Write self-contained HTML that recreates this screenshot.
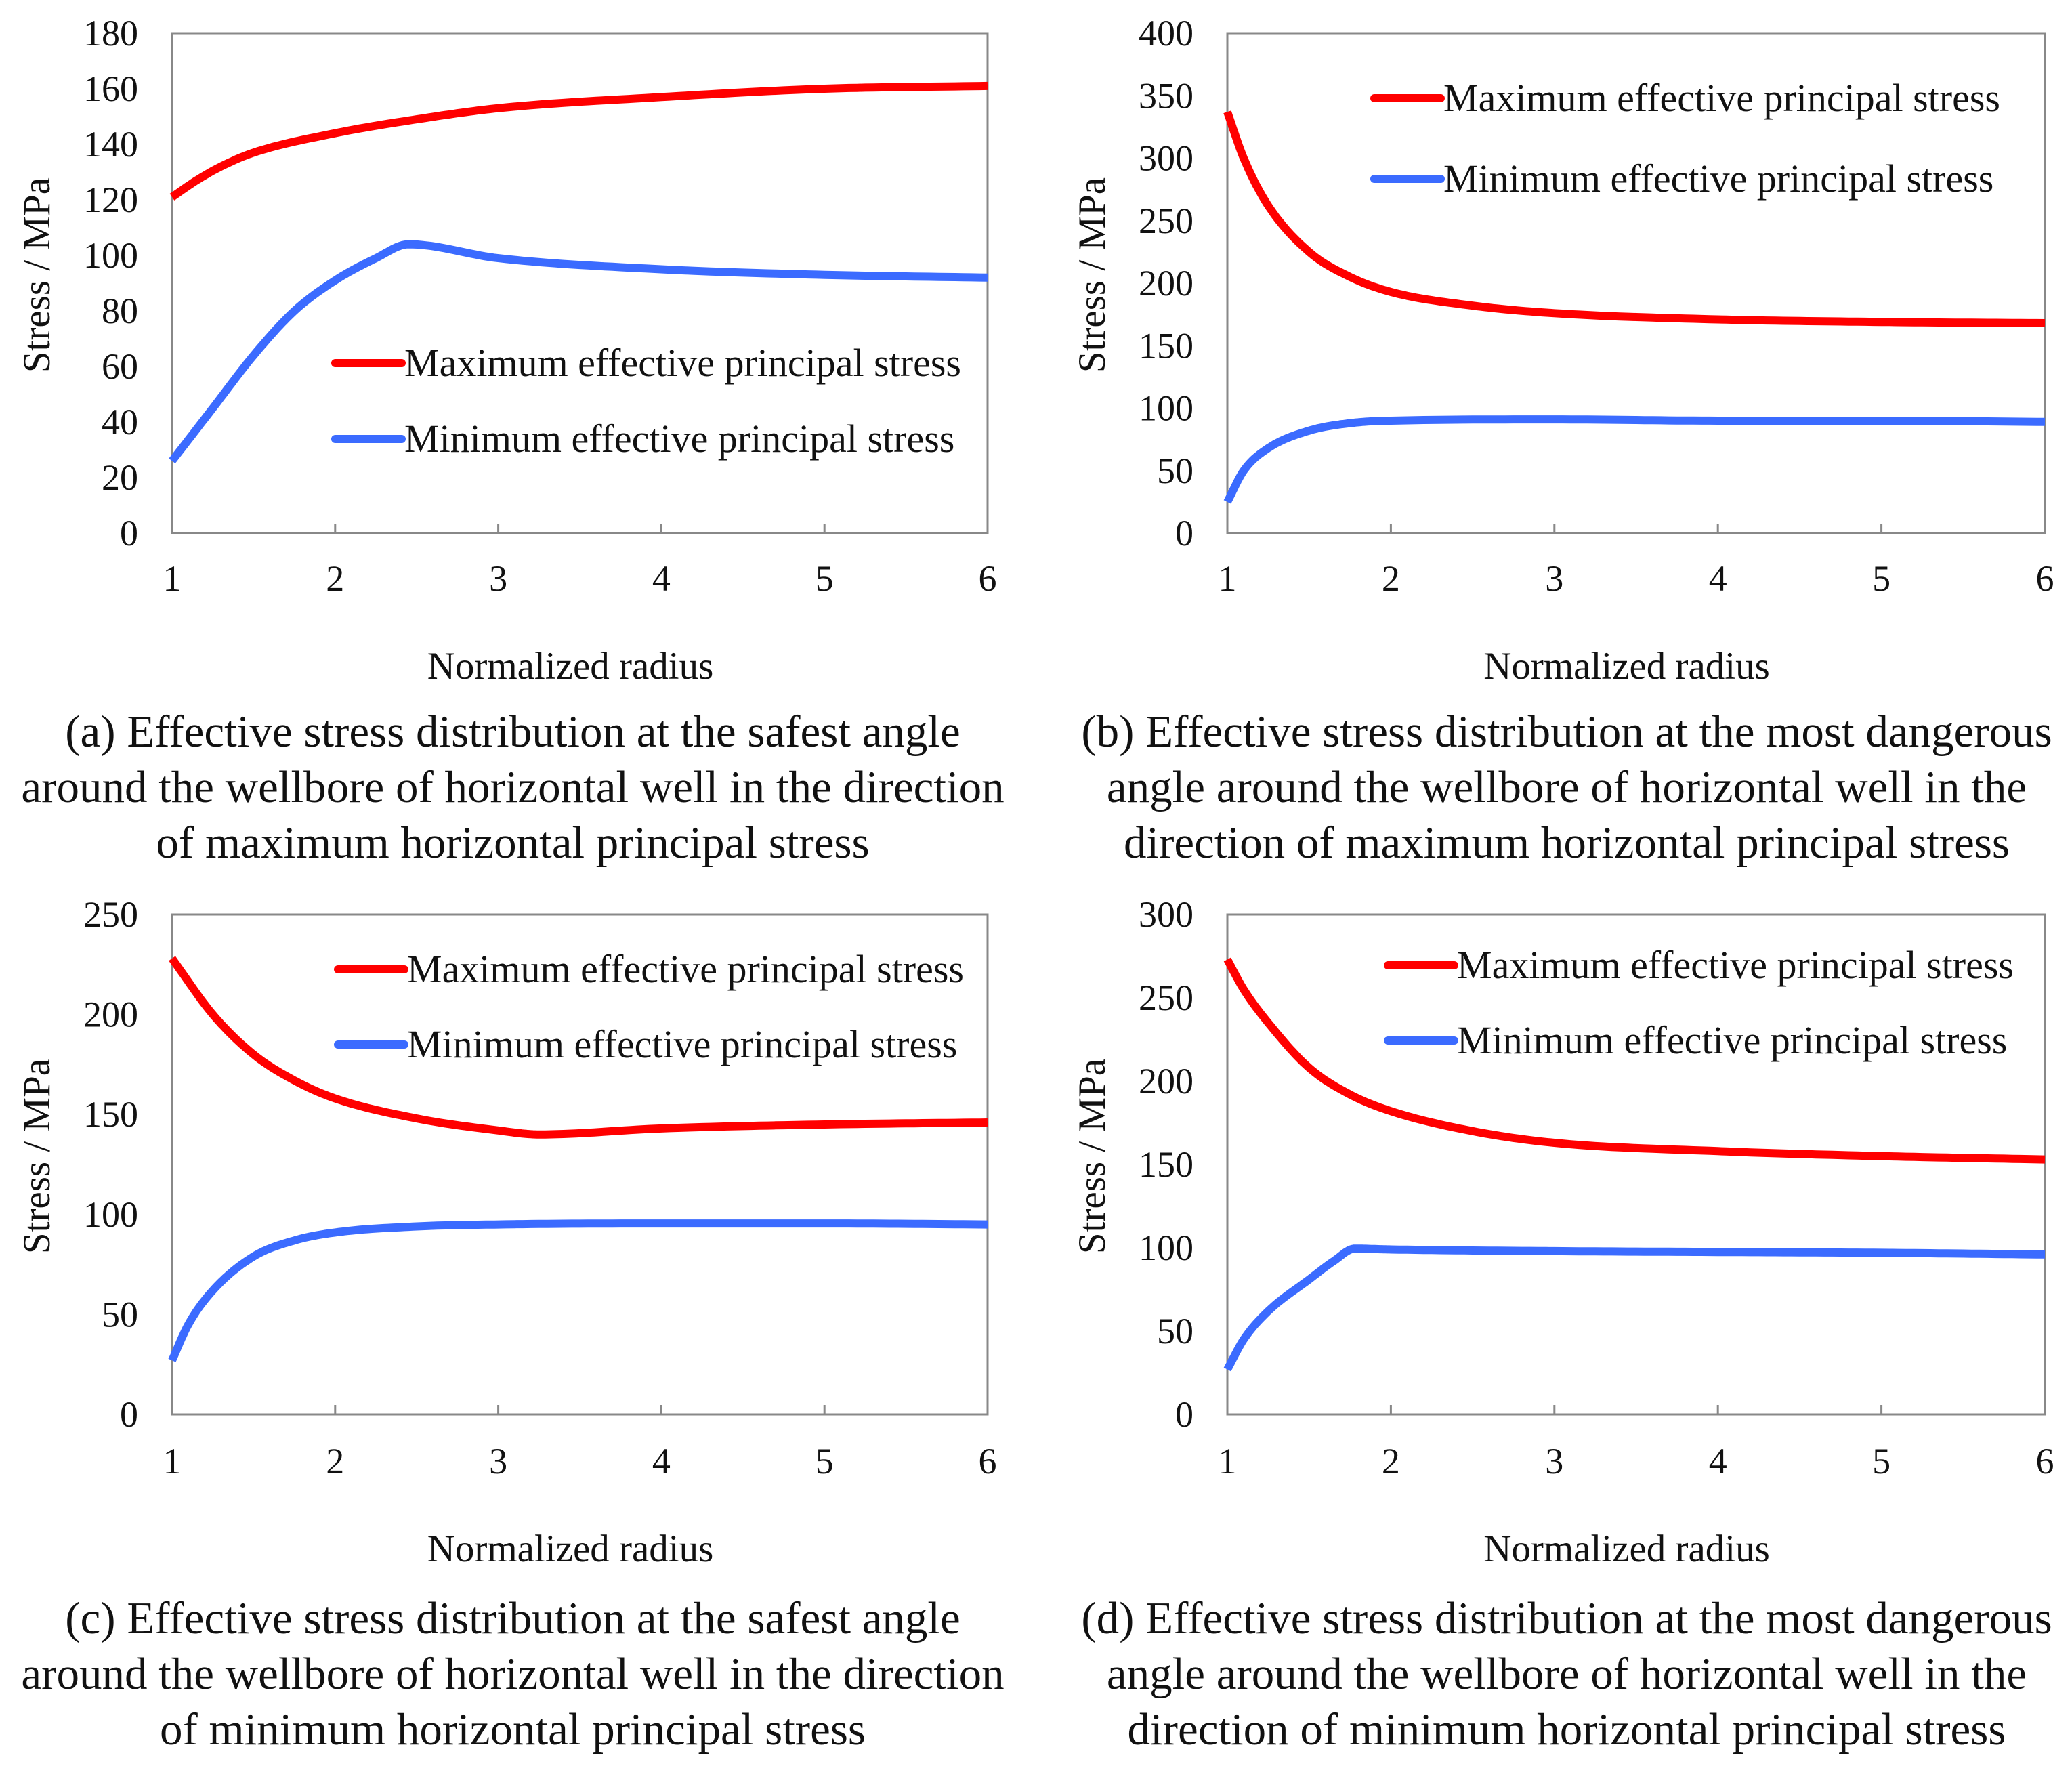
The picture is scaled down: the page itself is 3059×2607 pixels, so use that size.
<!DOCTYPE html>
<html><head><meta charset="utf-8"><style>
html,body{margin:0;padding:0;background:#fff}
svg{display:block}
text{font-family:"Liberation Serif",serif;fill:#111}
</style></head><body>
<svg id="fig" width="3059" height="2607" viewBox="0 0 3059 2607" xmlns="http://www.w3.org/2000/svg"></svg>
<script>
// ---- data ----
const xTicks = [1,2,3,4,5,6];
const aYTicks = [0,20,40,60,80,100,120,140,160,180];
const bYTicks = [0,50,100,150,200,250,300,350,400];
const cYTicks = [0,50,100,150,200,250];
const dYTicks = [0,50,100,150,200,250,300];

const aMaxX = [1,1.15,1.3,1.5,2,2.5,3,4,5,6];
const aMaxY = [121,127,132,137,144,149,153,157,160,161];
const aMinX = [1,1.25,1.5,1.75,2,2.25,2.45,3,4,5,6];
const aMinY = [26,45,64,80,91,99,104,99,95,93,92];

const bMaxX = [1,1.1,1.25,1.5,1.75,2,2.5,3,4,5,6];
const bMaxY = [337,300,262,225,205,193,182,176,171,169,168];
const bMinX = [1,1.1,1.25,1.5,1.75,2,3,4,5,6];
const bMinY = [25,50,68,82,88,90,91,90,90,89];

const cMaxX = [1,1.25,1.5,1.75,2,2.5,3,3.25,4,5,6];
const cMaxY = [228,200,180,167,158,148,142,140,143,145,146];
const cMinX = [1,1.1,1.25,1.5,1.75,2,2.5,3,4,5,6];
const cMinY = [27,45,62,79,87,91,94,95,95.5,95.5,95];

const dMaxX = [1,1.1,1.25,1.5,1.75,2,2.5,3,4,5,6];
const dMaxY = [273,255,235,208,192,182,170,163,158,155,153];
const dMinX = [1,1.1,1.25,1.5,1.65,1.78,2,3,4,5,6];
const dMinY = [27,45,62,81,92,99.5,99,98,97.5,97,96];

const legendLabels = ["Maximum effective principal stress","Minimum effective principal stress"];

const NS="http://www.w3.org/2000/svg";
const svg=document.getElementById('fig');
function mk(tag,attrs,parent){const e=document.createElementNS(NS,tag);for(const k in attrs)e.setAttribute(k,attrs[k]);(parent||svg).appendChild(e);return e;}

function monotonePath(xs,ys,sx,sy){
  const n=xs.length,d=[],m=[];
  for(let i=0;i<n-1;i++)d.push((ys[i+1]-ys[i])/(xs[i+1]-xs[i]));
  m[0]=d[0];m[n-1]=d[n-2];
  for(let i=1;i<n-1;i++){m[i]=(d[i-1]*d[i]<=0)?0:(d[i-1]+d[i])/2;}
  for(let i=0;i<n-1;i++){if(d[i]===0){m[i]=0;m[i+1]=0;continue;}const a=m[i]/d[i],b=m[i+1]/d[i],s=a*a+b*b;if(s>9){const t=3/Math.sqrt(s);m[i]=t*a*d[i];m[i+1]=t*b*d[i];}}
  let p='M'+sx(xs[0]).toFixed(1)+','+sy(ys[0]).toFixed(1);
  for(let i=0;i<n-1;i++){const h=xs[i+1]-xs[i];
    for(let k=1;k<=20;k++){const t=k/20,t2=t*t,t3=t2*t;
      const y=(2*t3-3*t2+1)*ys[i]+(t3-2*t2+t)*h*m[i]+(-2*t3+3*t2)*ys[i+1]+(t3-t2)*h*m[i+1];
      p+=' L'+sx(xs[i]+t*h).toFixed(1)+','+sy(y).toFixed(1);}}
  return p;
}

const panels=[
 {id:'a',L:254,R:1458,T:49,B:787,yt:aYTicks,ymax:180,mx:aMaxX,my:aMaxY,nx:aMinX,ny:aMinY,lx:495,ly:[536,648],
  cap:["(a) Effective stress distribution at the safest angle","around the wellbore of horizontal well in the direction","of maximum horizontal principal stress"],cx:757,capY:1102,xtY:872,xtitleY:1000},
 {id:'b',L:1812,R:3019,T:49,B:787,yt:bYTicks,ymax:400,mx:bMaxX,my:bMaxY,nx:bMinX,ny:bMinY,lx:2029,ly:[145,264],
  cap:["(b) Effective stress distribution at the most dangerous","angle around the wellbore of horizontal well in the","direction of maximum horizontal principal stress"],cx:2313,capY:1102,xtY:872,xtitleY:1000},
 {id:'c',L:254,R:1458,T:1350,B:2088,yt:cYTicks,ymax:250,mx:cMaxX,my:cMaxY,nx:cMinX,ny:cMinY,lx:499,ly:[1431,1542],
  cap:["(c) Effective stress distribution at the safest angle","around the wellbore of horizontal well in the direction","of minimum horizontal principal stress"],cx:757,capY:2411,xtY:2175,xtitleY:2303},
 {id:'d',L:1812,R:3019,T:1350,B:2088,yt:dYTicks,ymax:300,mx:dMaxX,my:dMaxY,nx:dMinX,ny:dMinY,lx:2049,ly:[1425,1536],
  cap:["(d) Effective stress distribution at the most dangerous","angle around the wellbore of horizontal well in the","direction of minimum horizontal principal stress"],cx:2313,capY:2411,xtY:2175,xtitleY:2303}
];

panels.forEach(P=>{
  const g=mk('g',{});
  
  
  const sx=v=>P.L+(v-1)/5*(P.R-P.L);
  const sy=v=>P.B-v/P.ymax*(P.B-P.T);
  const fr=mk('rect',{x:P.L,y:P.T,width:P.R-P.L,height:P.B-P.T,fill:'none',stroke:'#888','stroke-width':3},g);
  
  
  xTicks.forEach(v=>{
    mk('line',{x1:sx(v),x2:sx(v),y1:P.B,y2:P.B-14,stroke:'#888','stroke-width':3},g);
    const t=mk('text',{x:sx(v),y:P.xtY,'text-anchor':'middle','font-size':54},g);
    t.textContent=v;
    
    
  });
  P.yt.forEach(v=>{
    const t=mk('text',{x:P.L-50,y:sy(v)+18,'text-anchor':'end','font-size':54},g);
    t.textContent=v;
    
    
  });
  const cyc=(P.T+P.B)/2-12;
  const yt=mk('text',{x:0,y:0,'text-anchor':'middle','font-size':57,transform:`translate(${P.L-181},${cyc}) rotate(-90)`},g);
  yt.textContent='Stress / MPa';
  
  
  const xt=mk('text',{x:(P.L+P.R)/2-14,y:P.xtitleY+2,'text-anchor':'middle','font-size':57},g);
  xt.textContent='Normalized radius';
  
  
  const l1=mk('path',{d:monotonePath(P.mx,P.my,sx,sy),fill:'none',stroke:'#ff0000','stroke-width':12,'stroke-linejoin':'round'},g);
  
  
  const l2=mk('path',{d:monotonePath(P.nx,P.ny,sx,sy),fill:'none',stroke:'#3b6bff','stroke-width':12,'stroke-linejoin':'round'},g);
  
  
  ['#ff0000','#3b6bff'].forEach((c,i)=>{
    const le=mk('g',{},g);
    
    
    mk('line',{x1:P.lx,x2:P.lx+98,y1:P.ly[i],y2:P.ly[i],stroke:c,'stroke-width':12,'stroke-linecap':'round'},le);
    const t=mk('text',{x:P.lx+102,y:P.ly[i]+19,'font-size':58},le);
    t.textContent=legendLabels[i];
  });
  P.cap.forEach((s,i)=>{
    const t=mk('text',{x:P.cx,y:P.capY+i*82,'text-anchor':'middle','font-size':67},g);
    t.textContent=s;
    
    
  });
});
</script>
</body></html>
